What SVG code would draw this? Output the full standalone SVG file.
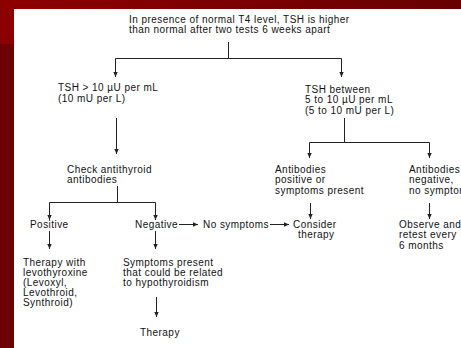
<svg xmlns="http://www.w3.org/2000/svg" width="461" height="348" viewBox="0 0 461 348">
<defs>
<linearGradient id="topg" x1="0" y1="0" x2="1" y2="0">
<stop offset="0" stop-color="#8e0000"/>
<stop offset="1" stop-color="#680000"/>
</linearGradient>
<marker id="ah" viewBox="0 0 5 5" refX="5" refY="2.5" markerWidth="5" markerHeight="5" markerUnits="userSpaceOnUse" orient="auto">
<path d="M0,0.3 L5,2.5 L0,4.7 Z" fill="#222"/>
</marker>
<style>
text{font-family:"Liberation Sans",Arial,sans-serif;font-size:10px;letter-spacing:0.45px;fill:#111}
.ln{stroke:#222;stroke-width:1;fill:none}
.ar{stroke:#222;stroke-width:1;fill:none;marker-end:url(#ah)}
</style>
</defs>
<rect x="0" y="0" width="461" height="348" fill="#fff"/>
<rect x="0" y="0" width="461" height="9" fill="url(#topg)"/>
<rect x="0" y="9" width="14" height="339" fill="#6e0000"/>
<rect x="0" y="0" width="14" height="44" fill="#8c0000"/>

<g id="connectors">
<path class="ln" d="M228.5,42 V58.5 M115.5,58.5 H341.5"/>
<path class="ar" d="M115.5,58.5 V77"/>
<path class="ar" d="M341.5,58.5 V77"/>
<path class="ar" d="M116.5,118 V154"/>
<path class="ln" d="M117.5,186 V202.5 M49.5,202.5 H155.5"/>
<path class="ar" d="M49.5,202.5 V220"/>
<path class="ar" d="M155.5,202.5 V220"/>
<path class="ar" d="M179,224.5 H198"/>
<path class="ar" d="M270,224.5 H289"/>
<path class="ln" d="M344.5,118 V142.5 M309.5,142.5 H429.5"/>
<path class="ar" d="M309.5,142.5 V158"/>
<path class="ar" d="M429.5,142.5 V158"/>
<path class="ar" d="M310.5,203 V219"/>
<path class="ar" d="M429.5,203 V219"/>
<path class="ar" d="M49.5,231 V249"/>
<path class="ar" d="M155.5,231 V249"/>
<path class="ar" d="M156.5,297 V317"/>
</g>

<g id="start"><text x="129" y="22.5">In presence of normal T4 level, TSH is higher</text><text x="129" y="32.5">than normal after two tests 6 weeks apart</text></g>
<g id="tsh-high"><text x="58" y="91">TSH &gt; 10 µU per mL</text><text x="58" y="101.5">(10 mU per L)</text></g>
<g id="tsh-between"><text x="305" y="92.5">TSH between</text><text x="305" y="103">5 to 10 µU per mL</text><text x="305" y="113.5">(5 to 10 mU per L)</text></g>
<g id="check"><text x="67" y="172.5">Check antithyroid</text><text x="67" y="183">antibodies</text></g>
<g id="positive"><text x="30" y="227.5">Positive</text></g>
<g id="negative"><text x="135" y="227.5">Negative</text></g>
<g id="no-symptoms"><text x="203" y="227.5">No symptoms</text></g>
<g id="consider"><text x="293" y="227.5">Consider</text><text x="298" y="238">therapy</text></g>
<g id="ab-pos"><text x="275" y="172.5">Antibodies</text><text x="275" y="183">positive or</text><text x="275" y="193.5">symptoms present</text></g>
<g id="ab-neg"><text x="409" y="172.5">Antibodies</text><text x="409" y="183">negative,</text><text x="409" y="193.5">no symptoms</text></g>
<g id="observe"><text x="399" y="227.5">Observe and</text><text x="399" y="238">retest every</text><text x="399" y="248.5">6 months</text></g>
<g id="therapy-levo"><text x="23" y="265.5">Therapy with</text><text x="23" y="275.5">levothyroxine</text><text x="23" y="285.5">(Levoxyl,</text><text x="23" y="295.5">Levothroid,</text><text x="23" y="305.5">Synthroid)</text></g>
<g id="symptoms-present"><text x="123" y="265.5">Symptoms present</text><text x="123" y="275.5">that could be related</text><text x="123" y="285.5">to hypothyroidism</text></g>
<g id="therapy"><text x="140" y="335.5">Therapy</text></g>
</svg>
